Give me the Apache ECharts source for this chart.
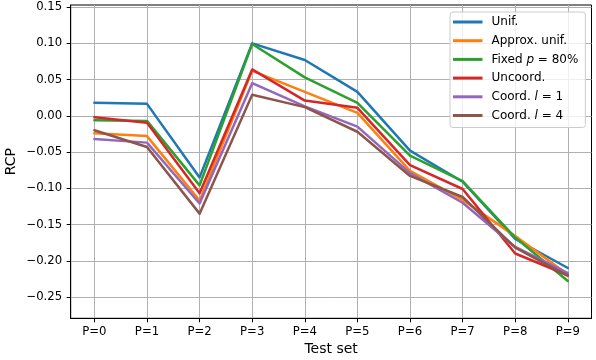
<!DOCTYPE html>
<html><head><meta charset="utf-8">
<script src="https://cdn.jsdelivr.net/npm/echarts@6/dist/echarts.min.js"></script>
<style>html,body{margin:0;padding:0;background:#fff}#c{width:596px;height:360px}</style>
</head><body><div id="c"></div>
<script>
const categories = ['P=0','P=1','P=2','P=3','P=4','P=5','P=6','P=7','P=8','P=9'];
const seriesNames = ['Unif.','Approx. unif.','Fixed p = 80%','Uncoord.','Coord. l = 1','Coord. l = 4'];
const legendLabels = ['Unif.','Approx. unif.','Fixed {i|p} = 80%','Uncoord.','Coord. {i|l} = 1','Coord. {i|l} = 4'];
const colors = ['#1f77b4','#ff7f0e','#2ca02c','#d62728','#9467bd','#8c564b'];
const unif    = [0.018, 0.0165, -0.085, 0.100, 0.077, 0.033, -0.048, -0.091, -0.170, -0.210];
const approx  = [-0.024, -0.028, -0.117, 0.062, 0.033, 0.004, -0.076, -0.116, -0.166, -0.219];
const fixed80 = [-0.006, -0.007, -0.096, 0.099, 0.053, 0.018, -0.055, -0.090, -0.168, -0.228];
const uncoord = [-0.002, -0.0095, -0.107, 0.064, 0.021, 0.011, -0.068, -0.101, -0.190, -0.220];
const coord1  = [-0.032, -0.037, -0.121, 0.045, 0.013, -0.015, -0.079, -0.120, -0.181, -0.217];
const coord4  = [-0.020, -0.043, -0.135, 0.029, 0.012, -0.022, -0.083, -0.112, -0.182, -0.221];
const yTicks = [-0.25, -0.2, -0.15, -0.1, -0.05, 0, 0.05, 0.1, 0.15];
const allSeries = [unif, approx, fixed80, uncoord, coord1, coord4];

const FONT = 'DejaVu Sans';
const xIdx = categories.map((_, i) => i);
const chart = echarts.init(document.getElementById('c'), null, {renderer: 'canvas'});
chart.setOption({
  animation: false,
  textStyle: {fontFamily: FONT},
  grid: {left: 70.7, right: 4.5, top: 5, bottom: 41.7, containLabel: false, outerBoundsMode: 'none',
    show: true, borderColor: '#000', borderWidth: 1, backgroundColor: 'transparent'},
  legend: {
    orient: 'vertical', left: 450, top: 12,
    padding: [3, 7, 5, 3],
    itemWidth: 29.5, itemHeight: 3, itemGap: 4.7, icon: 'rect',
    backgroundColor: 'rgba(255,255,255,0.8)', borderColor: '#cccccc', borderWidth: 1, borderRadius: 3,
    data: seriesNames.map(n => ({name: n, icon: 'rect'})),
    formatter: name => legendLabels[seriesNames.indexOf(name)],
    textStyle: {fontFamily: FONT, fontSize: 12, color: '#000', lineHeight: 14, padding: [0, 0, 0, 4],
      rich: {i: {fontFamily: FONT, fontSize: 12, fontStyle: 'italic', color: '#000'}}},
    selectedMode: false
  },
  xAxis: {
    type: 'value', min: -0.45, max: 9.45,
    name: 'Test set', nameLocation: 'middle', nameGap: 24, nameMoveOverlap: false,
    nameTextStyle: {fontFamily: FONT, fontSize: 14, color: '#000'},
    axisLine: {show: true, onZero: false, lineStyle: {color: '#000', width: 1}},
    axisTick: {show: true, inside: false, length: 4, lineStyle: {color: '#000'}, customValues: xIdx},
    axisLabel: {customValues: xIdx, margin: 8, fontFamily: FONT, fontSize: 11.7, color: '#000',
      formatter: v => categories[Math.round(v)]},
    splitLine: {show: true, lineStyle: {color: '#b0b0b0', width: 1}}
  },
  yAxis: {
    type: 'value', min: -0.2794, max: 0.1529,
    name: 'RCP', nameLocation: 'middle', nameGap: 52, nameRotate: 90, nameMoveOverlap: false,
    nameTextStyle: {fontFamily: FONT, fontSize: 14, color: '#000'},
    axisLine: {show: true, onZero: false, lineStyle: {color: '#000', width: 1}},
    axisTick: {show: true, inside: false, length: 4, lineStyle: {color: '#000'}, customValues: yTicks},
    axisLabel: {customValues: yTicks, margin: 8.5, fontFamily: FONT, fontSize: 11.7, color: '#000',
      formatter: v => v.toFixed(2).replace('-', '\u2212')},
    splitLine: {show: true, lineStyle: {color: '#b0b0b0', width: 1}}
  },
  series: allSeries.map((vals, k) => ({
    name: seriesNames[k], type: 'line',
    data: vals.map((v, i) => [i, v]),
    showSymbol: false, symbol: 'none',
    lineStyle: {color: colors[k], width: 2.5, join: 'round', cap: 'round'},
    itemStyle: {color: colors[k]},
    emphasis: {disabled: true},
    z: 2 + k
  }))
});
</script></body></html>
